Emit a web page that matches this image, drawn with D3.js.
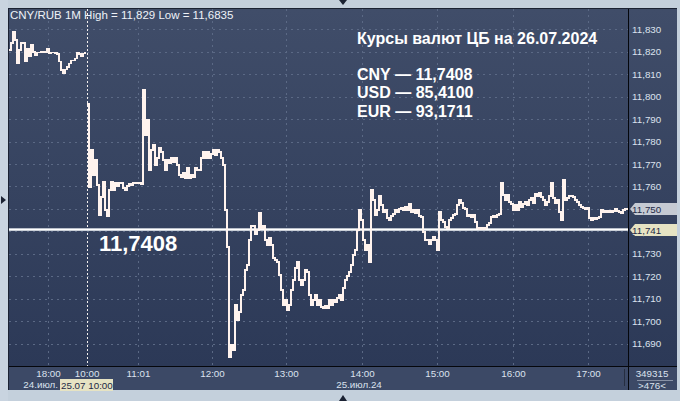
<!DOCTYPE html>
<html><head><meta charset="utf-8">
<script src="https://cdn.jsdelivr.net/npm/d3@7"></script>
<style>
html,body{margin:0;padding:0;background:#c4d0dc;}
svg{display:block;}
text{font-family:"Liberation Sans",Arial,sans-serif;}
</style></head><body>
<svg id="chart" width="680" height="401"></svg>
<script>
// ---- data ----
const prevDay = [
 11.8208,11.8239,11.8288,11.8252,11.8151,11.8208,11.8240,11.8240,11.8156,11.8215,
 11.8178,11.8230,11.8199,11.8186,11.8196,11.8196,11.8200,11.8200,11.8200,11.8215,
 11.8194,11.8196,11.8196,11.8194,11.8190,11.8156,11.8119,11.8104,11.8122,11.8133,
 11.8148,11.8160,11.8160,11.8171,11.8196,11.8190,11.8178,11.8193,11.8200
];
const today = [
 11.7967,11.7597,11.7762,11.7651,11.7718,11.7606,11.7472,11.7553,11.7619,11.7495,
 11.7468,11.7584,11.7620,11.7584,11.7615,11.7602,11.7615,11.7615,11.7593,11.7584,
 11.7602,11.7611,11.7606,11.7615,11.7614,11.7615,11.7615,11.7611,11.8030,11.7829,
 11.7896,11.7673,11.7762,11.7785,11.7695,11.7727,11.7771,11.7753,11.7718,11.7673,
 11.7718,11.7704,11.7727,11.7709,11.7727,11.7695,11.7651,11.7642,11.7660,11.7637,
 11.7682,11.7637,11.7651,11.7642,11.7682,11.7673,11.7673,11.7727,11.7753,11.7727,
 11.7753,11.7727,11.7744,11.7762,11.7740,11.7762,11.7753,11.7727,11.7695,11.7495,
 11.7330,11.6839,11.6893,11.6871,11.7072,11.7005,11.7041,11.7117,11.7139,11.7228,
 11.7250,11.7361,11.7423,11.7423,11.7387,11.7405,11.7481,11.7414,11.7423,11.7361,
 11.7339,11.7370,11.7339,11.7281,11.7272,11.7263,11.7205,11.7138,11.7072,11.7094,
 11.7049,11.7072,11.7139,11.7183,11.7236,11.7263,11.7183,11.7161,11.7183,11.7228,
 11.7219,11.7117,11.7072,11.7094,11.7117,11.7072,11.7094,11.7063,11.7059,11.7068,
 11.7059,11.7094,11.7072,11.7094,11.7085,11.7103,11.7117,11.7094,11.7148,11.7183,
 11.7201,11.7219,11.7250,11.7294,11.7317,11.7406,11.7495,11.7450,11.7361,11.7317,
 11.7339,11.7263,11.7584,11.7539,11.7472,11.7495,11.7557,11.7517,11.7486,11.7495,
 11.7459,11.7450,11.7468,11.7477,11.7495,11.7486,11.7499,11.7504,11.7495,11.7508,
 11.7495,11.7521,11.7486,11.7495,11.7481,11.7495,11.7468,11.7463,11.7396,11.7361,
 11.7361,11.7343,11.7361,11.7374,11.7361,11.7316,11.7486,11.7450,11.7441,11.7419,
 11.7414,11.7450,11.7459,11.7472,11.7477,11.7517,11.7539,11.7526,11.7504,11.7499,
 11.7468,11.7472,11.7463,11.7472,11.7441,11.7414,11.7410,11.7414,11.7410,11.7414,
 11.7428,11.7437,11.7463,11.7468,11.7463,11.7472,11.7477,11.7615,11.7561,11.7539,
 11.7561,11.7530,11.7521,11.7495,11.7517,11.7495,11.7530,11.7508,11.7521,11.7530,
 11.7517,11.7539,11.7548,11.7526,11.7566,11.7557,11.7570,11.7553,11.7539,11.7517,
 11.7530,11.7557,11.7615,11.7548,11.7526,11.7539,11.7486,11.7450,11.7628,11.7539,
 11.7548,11.7557,11.7557,11.7553,11.7539,11.7530,11.7517,11.7508,11.7504,11.7499,
 11.7504,11.7459,11.7450,11.7459,11.7454,11.7459,11.7463,11.7495,11.7486,11.7490,
 11.7486,11.7490,11.7486,11.7490,11.7499,11.7490,11.7486,11.7481,11.7495,11.7499,
 11.7504
];
const timeLabels = ["18:00","10:00","11:01","12:00","13:00","14:00","15:00","16:00","17:00"];
const timeTickIdx = [19.5, 38.8, 64.5, 101.5, 138.5, 176.5, 214, 252, 289.5];
const sessionBreakIdx = 38.8;
const priceTicks = [11.69,11.70,11.71,11.72,11.73,11.74,11.75,11.76,11.77,11.78,11.79,11.80,11.81,11.82,11.83];
const cbRate = 11.7408;
const lastPrice = 11.750;
const headerText = "CNY/RUB 1M High = 11,829 Low = 11,6835";
const infoLines = ["Курсы валют ЦБ на 26.07.2024", "", "CNY — 11,7408", "USD — 85,4100", "EUR — 93,1711"];
const cbLabel = "11,7408";
const prevDateLabel = "24.июл.";
const cursorLabel = "25.07 10:00";
const dayLabel = "25.июл.24";
const dayLabelIdx = 175;
const countTop = "349315";
const countBottom = ">476<";

// ---- layout ----
const svg = d3.select("#chart");
const L = 9, R = 628, T = 9, B = 366;
const nTotal = prevDay.length + today.length;
const x = d3.scaleLinear().domain([0, nTotal - 1]).range([9, 627]);
const y = d3.scaleLinear().domain([11.830, 11.690]).range([29.3, 343.6]);
const fmt = v => d3.format(".3f")(v).replace(".", ",");

const defs = svg.append("defs");
const g1 = defs.append("linearGradient").attr("id","bg").attr("x1",0).attr("y1",0).attr("x2",0).attr("y2",1);
g1.append("stop").attr("offset","0%").attr("stop-color","#404d69");
g1.append("stop").attr("offset","100%").attr("stop-color","#2c3957");
const clip = defs.append("clipPath").attr("id","plotclip");
clip.append("rect").attr("x",L).attr("y",T).attr("width",R-L).attr("height",B-T);

svg.append("rect").attr("width",680).attr("height",401).attr("fill","#c4d0dc");
svg.append("rect").attr("x",0).attr("y",0).attr("width",8).attr("height",401).attr("fill","#c9d4e0");
svg.append("rect").attr("x",8).attr("y",8).attr("width",669).attr("height",382).attr("fill","#3b4865");
svg.append("rect").attr("x",L).attr("y",T).attr("width",R-L).attr("height",B-T).attr("fill","url(#bg)");
svg.append("rect").attr("x",R+1).attr("y",T).attr("width",677-R-1).attr("height",B-T).attr("fill","url(#bg)");
svg.append("rect").attr("x",L).attr("y",B+1).attr("width",677-L).attr("height",390-B-1).attr("fill","#3c4966");

// grid
const grid = svg.append("g");
grid.selectAll("line.h").data(priceTicks).join("line")
  .attr("x1",L).attr("x2",R).attr("y1",d=>Math.round(y(d))+0.5).attr("y2",d=>Math.round(y(d))+0.5)
  .attr("stroke","#5b6985").attr("stroke-dasharray","2,4");
grid.selectAll("line.v").data(timeTickIdx.filter(d=>d!==sessionBreakIdx)).join("line")
  .attr("y1",T).attr("y2",B).attr("x1",d=>Math.round(x(d))+0.5).attr("x2",d=>Math.round(x(d))+0.5)
  .attr("stroke","#5b6985").attr("stroke-dasharray","2,4");
// session separator
svg.append("line").attr("x1",Math.round(x(sessionBreakIdx))+0.5).attr("x2",Math.round(x(sessionBreakIdx))+0.5)
  .attr("y1",T).attr("y2",B).attr("stroke","#f4f0ee").attr("stroke-dasharray","2,2");

// CB rate line
svg.append("line").attr("x1",L).attr("x2",R).attr("y1",y(cbRate)).attr("y2",y(cbRate))
  .attr("stroke","#b9bfca").attr("stroke-width",3);
svg.append("line").attr("x1",L).attr("x2",R).attr("y1",y(cbRate)).attr("y2",y(cbRate))
  .attr("stroke","#ffffff").attr("stroke-width",1.2);

// price line (minute closes drawn as steps)
const line = d3.line().curve(d3.curveStepAfter).x(d=>x(d[0])).y(d=>y(d[1]));
const plot = svg.append("g").attr("clip-path","url(#plotclip)");
plot.append("path").datum(prevDay.map((v,i)=>[i,v]))
  .attr("d",line).attr("fill","none").attr("stroke","#fff3ee").attr("stroke-width",1.5)
  .attr("shape-rendering","crispEdges");
plot.append("path").datum(today.map((v,i)=>[i+prevDay.length,v]))
  .attr("d",line).attr("fill","none").attr("stroke","#fff3ee").attr("stroke-width",1.5)
  .attr("shape-rendering","crispEdges");

// borders
svg.append("line").attr("x1",8.5).attr("x2",8.5).attr("y1",8).attr("y2",390).attr("stroke","#1b2233");
svg.append("line").attr("x1",8).attr("x2",677).attr("y1",8.5).attr("y2",8.5).attr("stroke","#1b2233");
svg.append("line").attr("x1",R+0.5).attr("x2",R+0.5).attr("y1",T).attr("y2",390).attr("stroke","#05070c");
svg.append("line").attr("x1",9).attr("x2",677).attr("y1",B+0.5).attr("y2",B+0.5).attr("stroke","#05070c");

// right axis
const yAxis = d3.axisRight(y).tickValues(priceTicks).tickFormat(fmt).tickSize(0).tickPadding(4);
const ya = svg.append("g").attr("transform",`translate(${R},0)`).call(yAxis);
ya.select(".domain").remove();
ya.selectAll("text").attr("fill","#dbe2ee").attr("font-size","9.8px").attr("font-family","'Liberation Sans',Arial,sans-serif");

// price markers
function marker(v, fill){
  const cy = Math.round(y(v));
  const gm = svg.append("g");
  gm.append("path").attr("d",`M${R+2},${cy} L${R+7},${cy-6} L677,${cy-6} L677,${cy+6} L${R+7},${cy+6} Z`)
    .attr("fill",fill);
  gm.append("text").attr("x",R+4).attr("y",cy+3.5).attr("fill","#1d2946").attr("font-size","9.8px").text(fmt(v));
}
marker(lastPrice, "#c5cad3");
marker(cbRate, "#e6e3c3");

// bottom axis
const xAxis = d3.axisBottom(x).tickValues(timeTickIdx).tickFormat((d,i)=>timeLabels[i]).tickSize(0).tickPadding(4);
const xa = svg.append("g").attr("transform",`translate(0,${B})`).call(xAxis);
xa.select(".domain").remove();
xa.selectAll("text").attr("fill","#dbe2ee").attr("font-size","9.8px").attr("font-family","'Liberation Sans',Arial,sans-serif");

svg.append("text").attr("x",x(dayLabelIdx)).attr("y",388).attr("text-anchor","middle")
  .attr("fill","#dbe2ee").attr("font-size","9.8px").text(dayLabel);
svg.append("text").attr("x",58).attr("y",388).attr("text-anchor","end")
  .attr("fill","#dbe2ee").attr("font-size","9.8px").text(prevDateLabel);
svg.append("rect").attr("x",60).attr("y",379).attr("width",53).attr("height",12).attr("fill","#e6e3c3");
svg.append("text").attr("x",61).attr("y",388.5).attr("fill","#1d2946").attr("font-size","9.8px").text(cursorLabel);

svg.append("line").attr("x1",624.5).attr("x2",624.5).attr("y1",369).attr("y2",386).attr("stroke","#262e40");
svg.append("text").attr("x",652).attr("y",377).attr("text-anchor","middle").attr("fill","#dbe2ee").attr("font-size","9.8px").text(countTop);
svg.append("line").attr("x1",637).attr("x2",673).attr("y1",380.5).attr("y2",380.5).attr("stroke","#8892a6");
svg.append("text").attr("x",652).attr("y",389).attr("text-anchor","middle").attr("fill","#dbe2ee").attr("font-size","9.8px").text(countBottom);

// header
svg.append("text").attr("x",10).attr("y",18.5).attr("fill","#eef2f8").attr("font-size","11.5px").text(headerText);

// info block
svg.selectAll("text.info").data(infoLines).join("text").attr("class","info")
  .attr("x",357).attr("y",(d,i)=> i===0 ? 43.5 : 80 + (i-2)*18.4)
  .attr("fill","#ffffff").attr("font-size","16px").attr("font-weight","bold").text(d=>d);

// CB label
svg.append("text").attr("x",99).attr("y",251).attr("fill","#ffffff").attr("font-size","22px")
  .attr("font-weight","bold").text(cbLabel);

// small triangles
svg.append("path").attr("d","M1,196 L6,200 L1,204 Z").attr("fill","#1b2233");
svg.append("path").attr("d","M339,0 L347,0 L343,5 Z").attr("fill","#1b2233");
svg.append("path").attr("d","M339,401 L347,401 L343,395 Z").attr("fill","#1b2233");
</script>
</body></html>
